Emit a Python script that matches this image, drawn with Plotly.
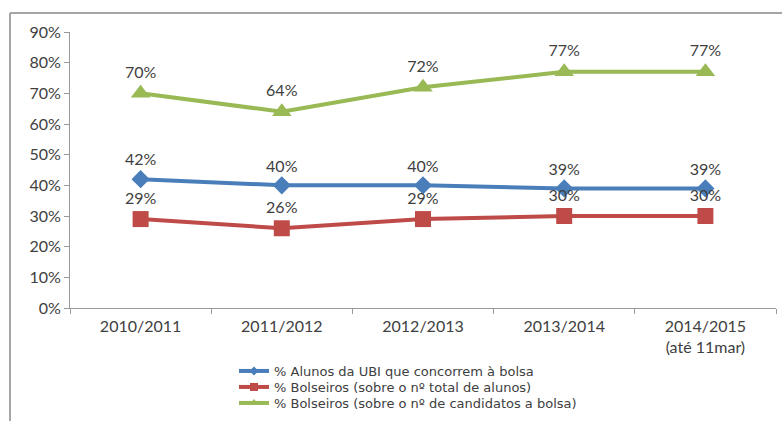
import plotly.graph_objects as go

# School years on the category axis
years = ["2010/2011", "2011/2012", "2012/2013", "2013/2014", "2014/2015<br>(até 11mar)"]

# Percentages per series
alunos_concorrem = [42, 40, 40, 39, 39]
bolseiros_total = [29, 26, 29, 30, 30]
bolseiros_candidatos = [70, 64, 72, 77, 77]

names = [
    "% Alunos da UBI que concorrem à bolsa",
    "% Bolseiros (sobre o nº total de alunos)",
    "% Bolseiros (sobre o nº de candidatos a bolsa)",
]

y_ticks = list(range(0, 91, 10))

W, H = 782, 421
L, R, T, B = 70, 6, 32, 113
pw, ph = W - L - R, H - T - B

font_family = "Lato, 'Liberation Sans', sans-serif"
legend_family = "'DejaVu Sans', sans-serif"
text_color = "#404040"
axis_color = "#9A9A9A"

fig = go.Figure()

series = [
    (alunos_concorrem, names[0], "#4A7EBB", "diamond", 14, 7, "legend"),
    (bolseiros_total, names[1], "#BE4B48", "square", 16, 8, "legend2"),
    (bolseiros_candidatos, names[2], "#98B954", "triangle-up", 17, 8, "legend3"),
]

for vals, name, color, symbol, msize, lsize, leg in series:
    fig.add_trace(go.Scatter(
        x=years,
        y=vals,
        name=name,
        mode="lines+markers+text",
        line=dict(color=color, width=4),
        marker=dict(symbol=symbol, size=msize, color=color),
        text=[f"{v}%" for v in vals],
        textposition="top center",
        textfont=dict(size=16, color=text_color, family=font_family),
        cliponaxis=False,
        showlegend=False,
    ))
    # legend entry with a smaller marker
    fig.add_trace(go.Scatter(
        x=[None],
        y=[None],
        name=name,
        mode="lines+markers",
        line=dict(color=color, width=4),
        marker=dict(symbol=symbol, size=lsize, color=color),
        showlegend=True,
        legend=leg,
    ))

legend_rows = [371, 387, 403]
legend_common = dict(
    orientation="v",
    xanchor="left",
    yanchor="middle",
    font=dict(size=13, color=text_color, family=legend_family),
    bgcolor="rgba(0,0,0,0)",
    itemwidth=30,
)

fig.update_layout(
    width=W,
    height=H,
    margin=dict(l=L, r=R, t=T, b=B, autoexpand=False),
    paper_bgcolor="white",
    plot_bgcolor="white",
    font=dict(family=font_family, size=16, color=text_color),
    showlegend=True,
    legend=dict(x=(234 - L) / pw, y=(308 - legend_rows[0]) / ph, **legend_common),
    legend2=dict(x=(234 - L) / pw, y=(308 - legend_rows[1]) / ph, **legend_common),
    legend3=dict(x=(234 - L) / pw, y=(308 - legend_rows[2]) / ph, **legend_common),
    xaxis=dict(
        type="category",
        automargin=False,
        showgrid=False,
        showline=True,
        linecolor=axis_color,
        linewidth=1,
        ticks="outside",
        tickson="boundaries",
        ticklen=5,
        tickcolor=axis_color,
        tickfont=dict(size=16, color=text_color),
        ticklabelstandoff=4,
        zeroline=False,
        range=[-0.5, 4.5],
    ),
    yaxis=dict(
        automargin=False,
        range=[0, 90],
        tickvals=y_ticks,
        ticktext=[f"{v}%" for v in y_ticks],
        showgrid=False,
        showline=True,
        linecolor=axis_color,
        linewidth=1,
        ticks="outside",
        ticklen=5,
        tickcolor=axis_color,
        tickfont=dict(size=16, color=text_color),
        zeroline=False,
    ),
)

# Outer chart frame (left and top edges)
fx0 = (10 - L) / pw
fy_top = (308 - 13) / ph
fy_bot = (308 - H) / ph
fx1 = (W - L) / pw
fig.add_shape(type="line", xref="paper", yref="paper",
              x0=fx0, y0=fy_bot, x1=fx0, y1=fy_top,
              line=dict(color="#A6A6A6", width=2))
fig.add_shape(type="line", xref="paper", yref="paper",
              x0=fx0, y0=fy_top, x1=fx1, y1=fy_top,
              line=dict(color="#A6A6A6", width=2))

fig.write_html("out.html")
